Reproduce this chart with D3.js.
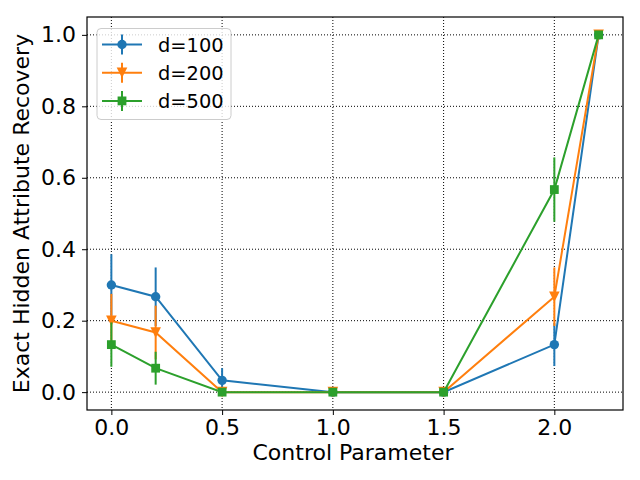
<!DOCTYPE html>
<html>
<head>
<meta charset="utf-8">
<script src="https://cdn.jsdelivr.net/npm/d3@7"></script>
<style>
  body { margin: 0; background: #fff; }
  text { font-family: "DejaVu Sans", sans-serif; }
</style>
</head>
<body>
<script>
var w = 640, h = 480;
var margin = {left: 87, right: 17, top: 17, bottom: 70};

// data
var xValues = [0.0, 0.2, 0.5, 1.0, 1.5, 2.0, 2.2];
var seriesNames = ["d=100", "d=200", "d=500"];
var y100 = [0.3, 0.267, 0.033, 0, 0, 0.133, 1.0];
var e100 = [0.086, 0.082, 0.034, 0, 0, 0.06, 0];
var y200 = [0.2, 0.167, 0, 0, 0, 0.267, 1.0];
var e200 = [0.075, 0.075, 0, 0, 0, 0.082, 0];
var y500 = [0.133, 0.067, 0, 0, 0, 0.567, 1.0];
var e500 = [0.062, 0.046, 0, 0, 0, 0.09, 0];
var xTicks = [0.0, 0.5, 1.0, 1.5, 2.0];
var yTicks = [0.0, 0.2, 0.4, 0.6, 0.8, 1.0];
var colors = ["#1f77b4", "#ff7f0e", "#2ca02c"];
var markers = ["circle", "triangle", "square"];

var series = [
  {name: seriesNames[0], y: y100, e: e100},
  {name: seriesNames[1], y: y200, e: e200},
  {name: seriesNames[2], y: y500, e: e500}
];

var svg = d3.select("body").append("svg")
  .attr("width", w)
  .attr("height", h);

var xScale = d3.scaleLinear()
  .domain([-0.11, 2.31])
  .range([margin.left, w - margin.right]);

var yScale = d3.scaleLinear()
  .domain([-0.05, 1.05])
  .range([h - margin.bottom, margin.top]);

// grid
svg.append("g").selectAll("line.gx")
  .data(xTicks).enter().append("line")
  .attr("x1", function(d) { return xScale(d); })
  .attr("x2", function(d) { return xScale(d); })
  .attr("y1", margin.top)
  .attr("y2", h - margin.bottom)
  .attr("stroke", "#000")
  .attr("stroke-width", 1)
  .attr("stroke-dasharray", "1,2");

svg.append("g").selectAll("line.gy")
  .data(yTicks).enter().append("line")
  .attr("y1", function(d) { return yScale(d); })
  .attr("y2", function(d) { return yScale(d); })
  .attr("x1", margin.left)
  .attr("x2", w - margin.right)
  .attr("stroke", "#000")
  .attr("stroke-width", 1)
  .attr("stroke-dasharray", "1,2");

// axes
var xAxis = d3.axisBottom(xScale).tickValues(xTicks).tickFormat(d3.format(".1f")).tickSizeOuter(0).tickSize(5).tickPadding(4);
var yAxis = d3.axisLeft(yScale).tickValues(yTicks).tickFormat(d3.format(".1f")).tickSizeOuter(0).tickSize(5).tickPadding(6);

var gx = svg.append("g")
  .attr("transform", "translate(0," + (h - margin.bottom) + ")")
  .call(xAxis);
var gy = svg.append("g")
  .attr("transform", "translate(" + margin.left + ",0)")
  .call(yAxis);
[gx, gy].forEach(function(g) {
  g.select(".domain").remove();
  g.selectAll("text").attr("font-size", "22px").attr("fill", "#000");
  g.selectAll("line").attr("stroke", "#000");
});

// frame
svg.append("rect")
  .attr("x", margin.left)
  .attr("y", margin.top)
  .attr("width", w - margin.left - margin.right)
  .attr("height", h - margin.top - margin.bottom)
  .attr("fill", "none")
  .attr("stroke", "#000")
  .attr("stroke-width", 1.2);

function drawMarker(g, type, cx, cy, color) {
  if (type === "circle") {
    g.append("circle").attr("cx", cx).attr("cy", cy).attr("r", 4.7).attr("fill", color);
  } else if (type === "triangle") {
    var s = 5.3;
    g.append("path")
      .attr("d", "M" + (cx - s) + "," + (cy - s) + "L" + (cx + s) + "," + (cy - s) + "L" + cx + "," + (cy + s) + "Z")
      .attr("fill", color);
  } else {
    g.append("rect").attr("x", cx - 4.4).attr("y", cy - 4.4).attr("width", 8.8).attr("height", 8.8).attr("fill", color);
  }
}

var line = d3.line()
  .x(function(d) { return xScale(d[0]); })
  .y(function(d) { return yScale(d[1]); });

series.forEach(function(s, k) {
  var g = svg.append("g");
  var pts = xValues.map(function(x, i) { return [x, s.y[i], s.e[i]]; });
  g.append("path")
    .attr("d", line(pts))
    .attr("fill", "none")
    .attr("stroke", colors[k])
    .attr("stroke-width", 2);
  pts.forEach(function(p) {
    if (p[2] > 0) {
      g.append("line")
        .attr("x1", xScale(p[0])).attr("x2", xScale(p[0]))
        .attr("y1", yScale(p[1] - p[2])).attr("y2", yScale(p[1] + p[2]))
        .attr("stroke", colors[k])
        .attr("stroke-width", 2);
    }
    drawMarker(g, markers[k], xScale(p[0]), yScale(p[1]), colors[k]);
  });
});

// labels
svg.append("text")
  .attr("x", (margin.left + w - margin.right) / 2 - 2)
  .attr("y", 460)
  .attr("text-anchor", "middle")
  .attr("font-size", "22px")
  .text("Control Parameter");

svg.append("text")
  .attr("transform", "translate(29," + ((margin.top + h - margin.bottom) / 2) + ") rotate(-90)")
  .attr("text-anchor", "middle")
  .attr("font-size", "22px")
  .text("Exact Hidden Attribute Recovery");

// legend
var lg = svg.append("g");
lg.append("rect")
  .attr("x", 97).attr("y", 28.5)
  .attr("width", 134).attr("height", 91)
  .attr("rx", 4)
  .attr("fill", "#fff")
  .attr("fill-opacity", 0.8)
  .attr("stroke", "#ccc")
  .attr("stroke-width", 1);

series.forEach(function(s, k) {
  var yy = 44.5 + k * 28.2;
  lg.append("line")
    .attr("x1", 102).attr("x2", 142)
    .attr("y1", yy).attr("y2", yy)
    .attr("stroke", colors[k]).attr("stroke-width", 2);
  lg.append("line")
    .attr("x1", 122).attr("x2", 122)
    .attr("y1", yy - 10).attr("y2", yy + 10)
    .attr("stroke", colors[k]).attr("stroke-width", 2);
  drawMarker(lg, markers[k], 122, yy, colors[k]);
  lg.append("text")
    .attr("x", 158).attr("y", yy + 7)
    .attr("font-size", "19.4px")
    .text(s.name);
});
</script>
</body>
</html>
